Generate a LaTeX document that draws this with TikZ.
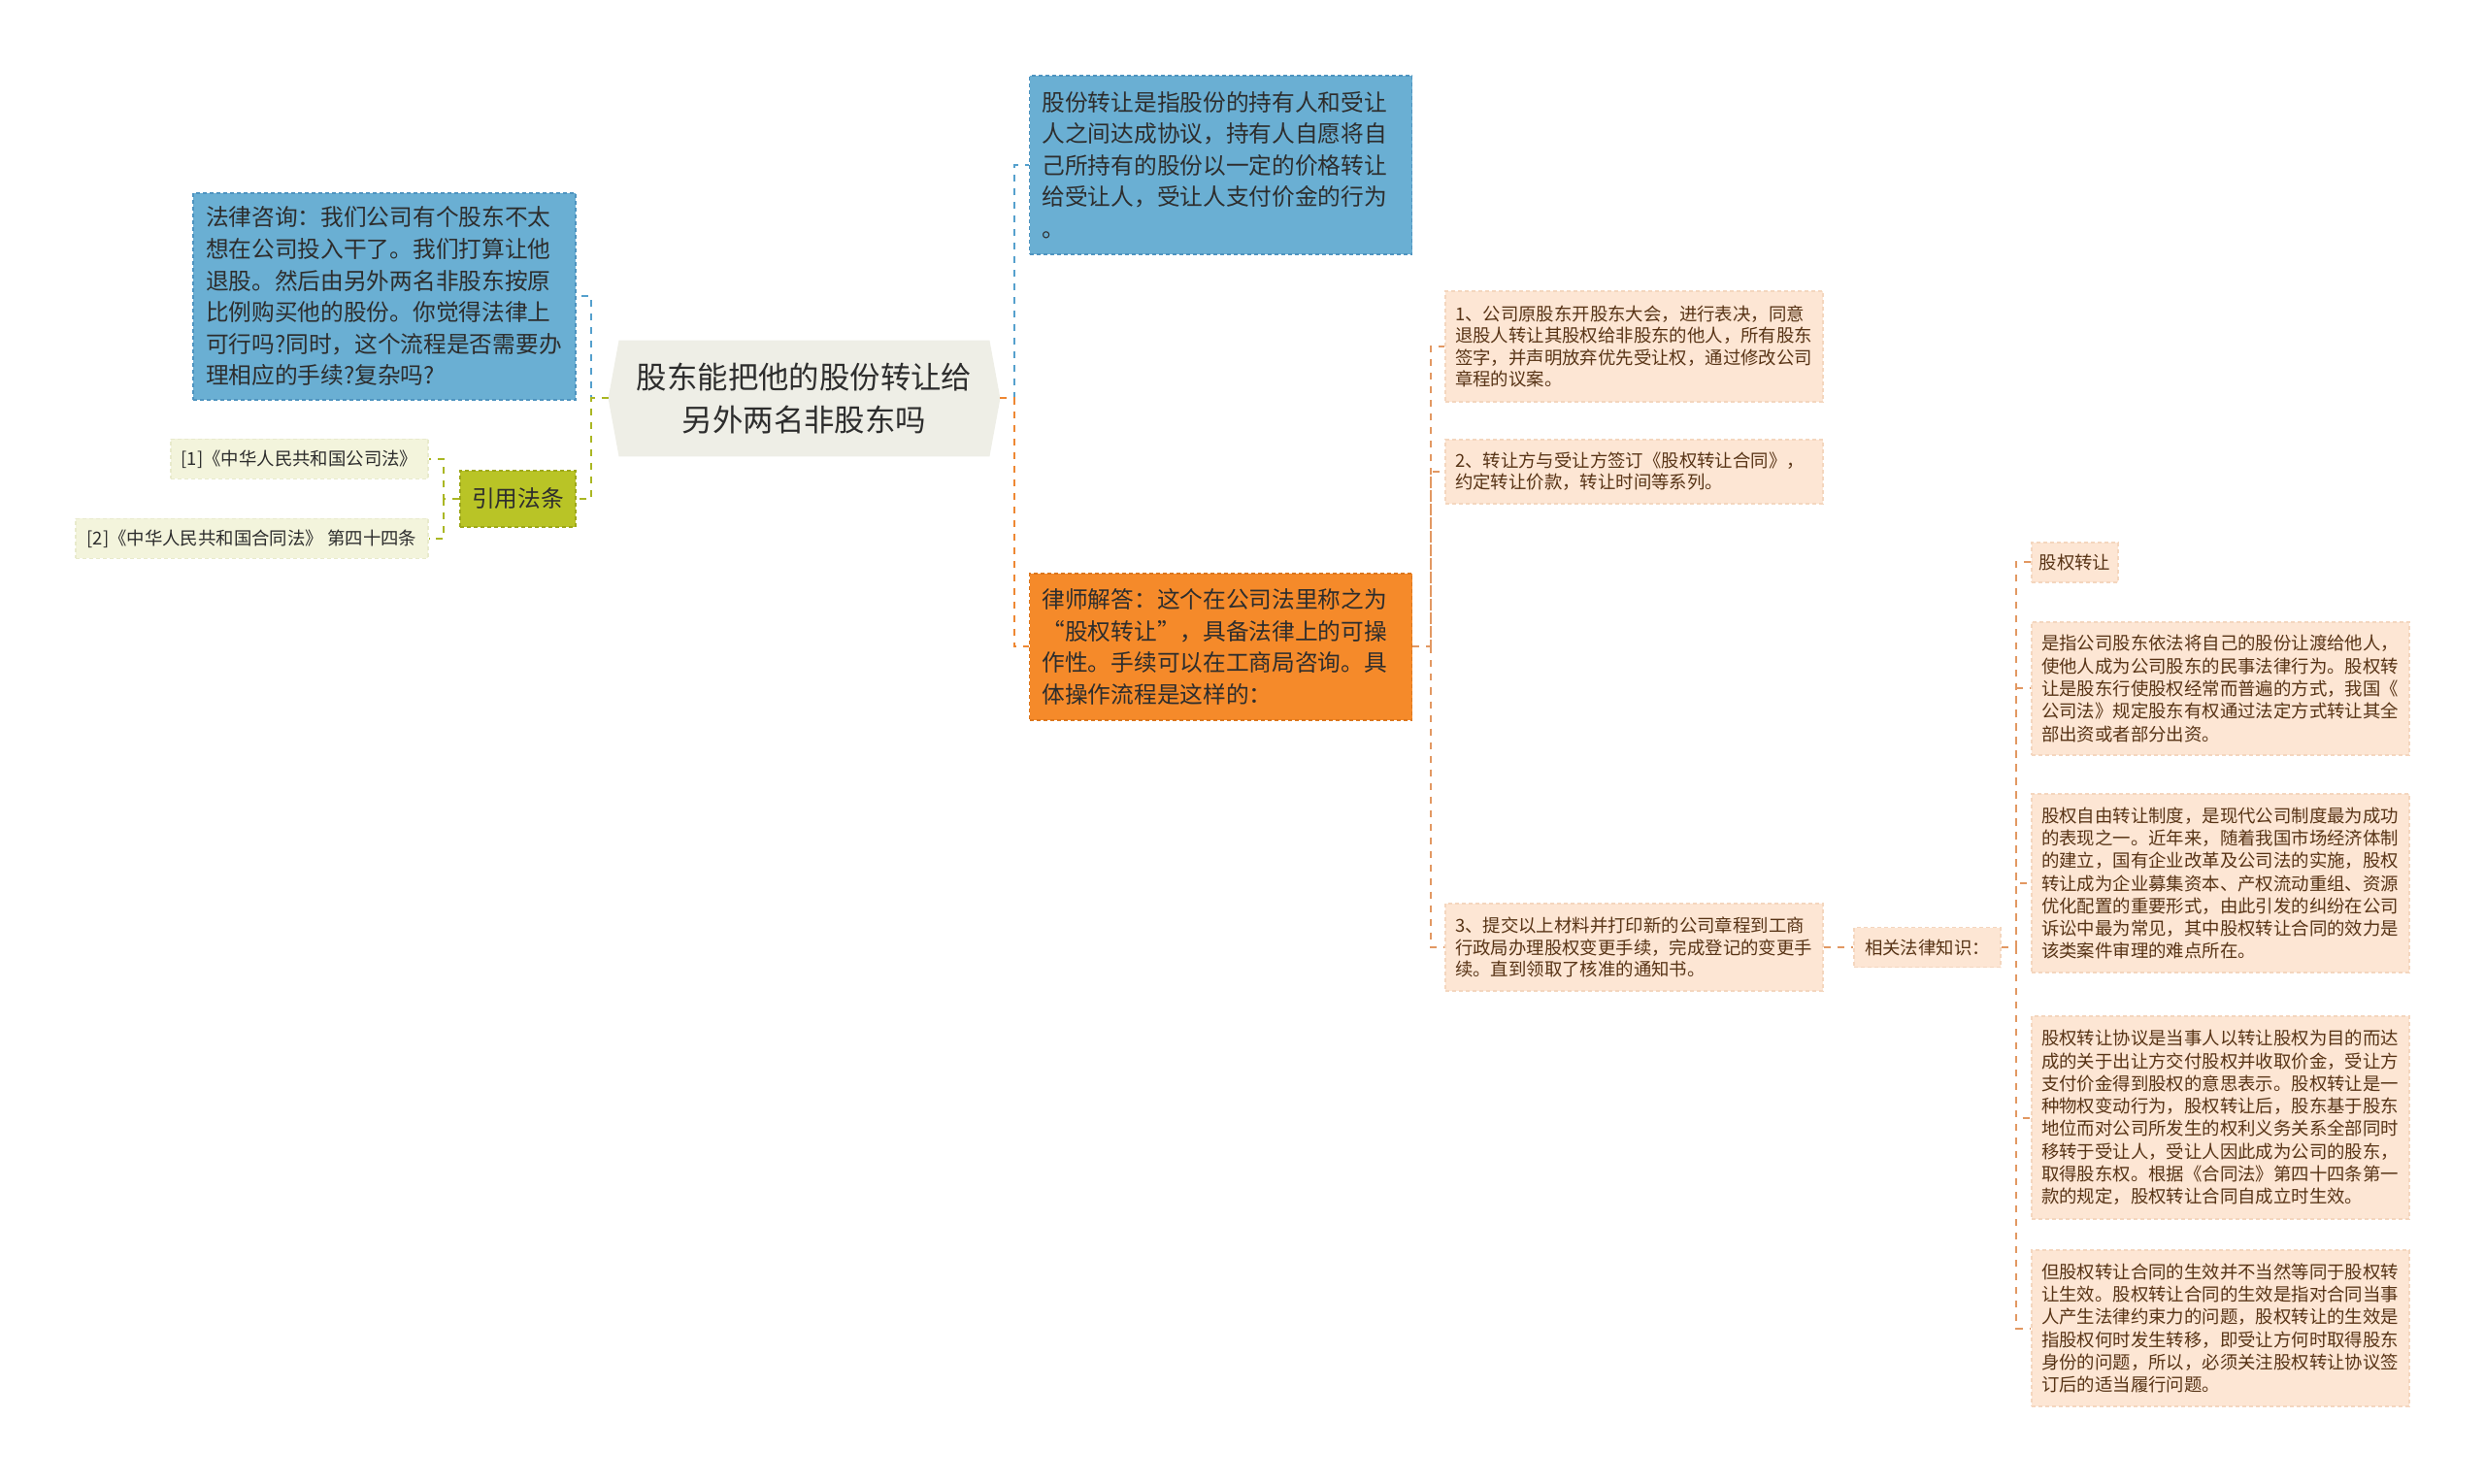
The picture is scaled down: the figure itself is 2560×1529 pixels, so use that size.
\documentclass[tikz,border=0pt]{standalone}
\usepackage{fontspec}
\newfontfamily\cjk{Noto Sans CJK SC}
\usetikzlibrary{backgrounds}

\definecolor{qblue}{RGB}{106,175,211}
\definecolor{qbluedk}{RGB}{78,148,192}
\definecolor{qbluelk}{RGB}{85,160,205}
\definecolor{qorange}{RGB}{245,138,42}
\definecolor{qorangedk}{RGB}{220,118,28}
\definecolor{qorangelk}{RGB}{238,135,50}
\definecolor{qroot}{RGB}{238,238,230}
\definecolor{qolive}{RGB}{185,196,38}
\definecolor{qolivedk}{RGB}{158,168,26}
\definecolor{qolivelk}{RGB}{170,183,35}
\definecolor{qpale}{RGB}{243,244,220}
\definecolor{qpaledk}{RGB}{232,234,204}
\definecolor{qpeach}{RGB}{253,230,212}
\definecolor{qpeachdk}{RGB}{244,214,190}
\definecolor{qpeachlk}{RGB}{226,152,98}
\definecolor{qbrown}{RGB}{88,52,22}
\definecolor{qink}{RGB}{45,45,45}

\begin{document}
\begin{tikzpicture}[x=0.5pt, y=-0.5pt,
    every node/.style={font=\cjk, inner sep=0pt},
    topic/.style={text=qink, align=center, minimum width=201.5pt, minimum height=59.5pt,
        font=\cjk\fontsize{15.7}{21.7}\selectfont},
    bluebox/.style={draw=qbluedk, fill=qblue, dash pattern=on 2pt off 1.5pt, line width=0.6pt,
        text=qink, align=left, text width=184pt, inner xsep=6.5pt,
        font=\cjk\fontsize{11.85}{16.3}\selectfont},
    orangebox/.style={bluebox, draw=qorangedk, fill=qorange},
    olivebox/.style={draw=qolivedk, fill=qolive, dash pattern=on 2pt off 1.5pt, line width=0.6pt,
        text=qink, minimum width=59.5pt, minimum height=29pt,
        font=\cjk\fontsize{11.85}{14}\selectfont},
    lawbox/.style={draw=qpaledk, fill=qpale, dash pattern=on 2pt off 1.5pt, line width=0.6pt,
        text=qink, minimum height=20.5pt, font=\cjk\fontsize{9.2}{11}\selectfont},
    stepbox/.style={draw=qpeachdk, fill=qpeach, dash pattern=on 2pt off 1.5pt, line width=0.6pt,
        text=qbrown, align=left, text width=184.5pt, inner xsep=5pt,
        font=\cjk\fontsize{9.2}{11.2}\selectfont},
    notebox/.style={stepbox, font=\cjk\fontsize{9.2}{11.65}\selectfont},
    tagbox/.style={draw=qpeachdk, fill=qpeach, dash pattern=on 2pt off 1.5pt, line width=0.6pt,
        text=qbrown, minimum height=20.5pt, font=\cjk\fontsize{9.2}{11}\selectfont},
    bluelink/.style={draw=qbluelk, line width=1pt, dash pattern=on 3.5pt off 3.5pt},
    orangelink/.style={bluelink, draw=qorangelk},
    olivelink/.style={bluelink, draw=qolivelk},
    peachlink/.style={bluelink, draw=qpeachlk}]

    \useasboundingbox (0,0) rectangle (2560,1529);
    \begin{scope}[on background layer]
        \fill[white] (0,0) rectangle (2560,1529);
    \end{scope}

    \node[topic] (root) at (828.5,410.5) {股东能把他的股份转让给\\另外两名非股东吗};
    \begin{scope}[on background layer]
        \fill[qroot] (root.west) -- ([xshift=5.5pt]root.north west) -- ([xshift=-5.5pt]root.north east)
            -- (root.east) -- ([xshift=-5.5pt]root.south east) -- ([xshift=5.5pt]root.south west) -- cycle;
    \end{scope}

    \node[bluebox, minimum height=106.5pt] (ask) at (396,305.5) {法律咨询：我们公司有个股东不太\\
        想在公司投入干了。我们打算让他\\退股。然后由另外两名非股东按原\\
        比例购买他的股份。你觉得法律上\\可行吗?同时，这个流程是否需要办\\理相应的手续?复杂吗?};
    \node[olivebox] (cite) at (533.5,514) {引用法条};
    \node[lawbox, minimum width=132.5pt] (law1) at (308.5,473) {[1]《中华人民共和国公司法》};
    \node[lawbox, minimum width=181.5pt] (law2) at (259.5,555) {[2]《中华人民共和国合同法》 第四十四条};

    \node[bluebox, minimum height=92pt] (define) at (1257.5,170) {股份转让是指股份的持有人和受让\\
        人之间达成协议，持有人自愿将自\\己所持有的股份以一定的价格转让\\给受让人，受让人支付价金的行为\\。};
    \node[orangebox, minimum height=75.5pt] (answer) at (1257.5,666.5) {律师解答：这个在公司法里称之为\\
        “股权转让”，具备法律上的可操\\作性。手续可以在工商局咨询。具\\体操作流程是这样的：};

    \node[stepbox, minimum height=57pt] (step1) at (1683.5,357) {1、公司原股东开股东大会，进行表决，同意\\
        退股人转让其股权给非股东的他人，所有股东\\签字，并声明放弃优先受让权，通过修改公司\\章程的议案。};
    \node[stepbox, minimum height=33pt] (step2) at (1683.5,486) {2、转让方与受让方签订《股权转让合同》，\\
        约定转让价款，转让时间等系列。};
    \node[stepbox, minimum height=45pt] (step3) at (1683.5,976) {3、提交以上材料并打印新的公司章程到工商\\
        行政局办理股权变更手续，完成登记的变更手\\续。直到领取了核准的通知书。};
    \node[tagbox, minimum width=75.5pt] (know) at (1985.5,976) {相关法律知识：};

    \node[tagbox, minimum width=44.5pt] (term) at (2137.5,579.5) {股权转让};
    \node[notebox, minimum height=68.5pt] (note1) at (2287.5,709.5) {是指公司股东依法将自己的股份让渡给他人，\\
        使他人成为公司股东的民事法律行为。股权转\\让是股东行使股权经常而普遍的方式，我国《\\
        公司法》规定股东有权通过法定方式转让其全\\部出资或者部分出资。};
    \node[notebox, minimum height=92pt] (note2) at (2287.5,910) {股权自由转让制度，是现代公司制度最为成功\\
        的表现之一。近年来，随着我国市场经济体制\\的建立，国有企业改革及公司法的实施，股权\\
        转让成为企业募集资本、产权流动重组、资源\\优化配置的重要形式，由此引发的纠纷在公司\\
        诉讼中最为常见，其中股权转让合同的效力是\\该类案件审理的难点所在。};
    \node[notebox, minimum height=104.5pt] (note3) at (2287.5,1151.5) {股权转让协议是当事人以转让股权为目的而达\\
        成的关于出让方交付股权并收取价金，受让方\\支付价金得到股权的意思表示。股权转让是一\\
        种物权变动行为，股权转让后，股东基于股东\\地位而对公司所发生的权利义务关系全部同时\\
        移转于受让人，受让人因此成为公司的股东，\\取得股东权。根据《合同法》第四十四条第一\\
        款的规定，股权转让合同自成立时生效。};
    \node[notebox, minimum height=80.5pt] (note4) at (2287.5,1368.5) {但股权转让合同的生效并不当然等同于股权转\\
        让生效。股权转让合同的生效是指对合同当事\\人产生法律约束力的问题，股权转让的生效是\\
        指股权何时发生转移，即受让方何时取得股东\\身份的问题，所以，必须关注股权转让协议签\\订后的适当履行问题。};

    \coordinate (lsp) at (609,410.5);
    \coordinate (csp) at (457,514);
    \coordinate (rsp) at (1045,410.5);
    \coordinate (asp) at (1474,666.5);
    \coordinate (ksp) at (2077,976);

    \draw[bluelink] (root.west) -- (lsp) |- (ask.east);
    \draw[olivelink] (root.west) -- (lsp) |- (cite.east);
    \draw[olivelink] (cite.west) -- (csp) |- (law1.east);
    \draw[olivelink] (csp) |- (law2.east);
    \draw[bluelink] (root.east) -- (rsp) |- (define.west);
    \draw[orangelink] (root.east) -- (rsp) |- (answer.west);
    \draw[peachlink] (answer.east) -- (asp) |- (step1.west);
    \draw[peachlink] (asp) |- (step2.west);
    \draw[peachlink] (asp) |- (step3.west);
    \draw[peachlink] (step3.east) -- (know.west);
    \draw[peachlink] (know.east) -- (ksp) |- (term.west);
    \draw[peachlink] (ksp) |- (note1.west);
    \draw[peachlink] (ksp) |- (note2.west);
    \draw[peachlink] (ksp) |- (note3.west);
    \draw[peachlink] (ksp) |- (note4.west);
\end{tikzpicture}
\end{document}
